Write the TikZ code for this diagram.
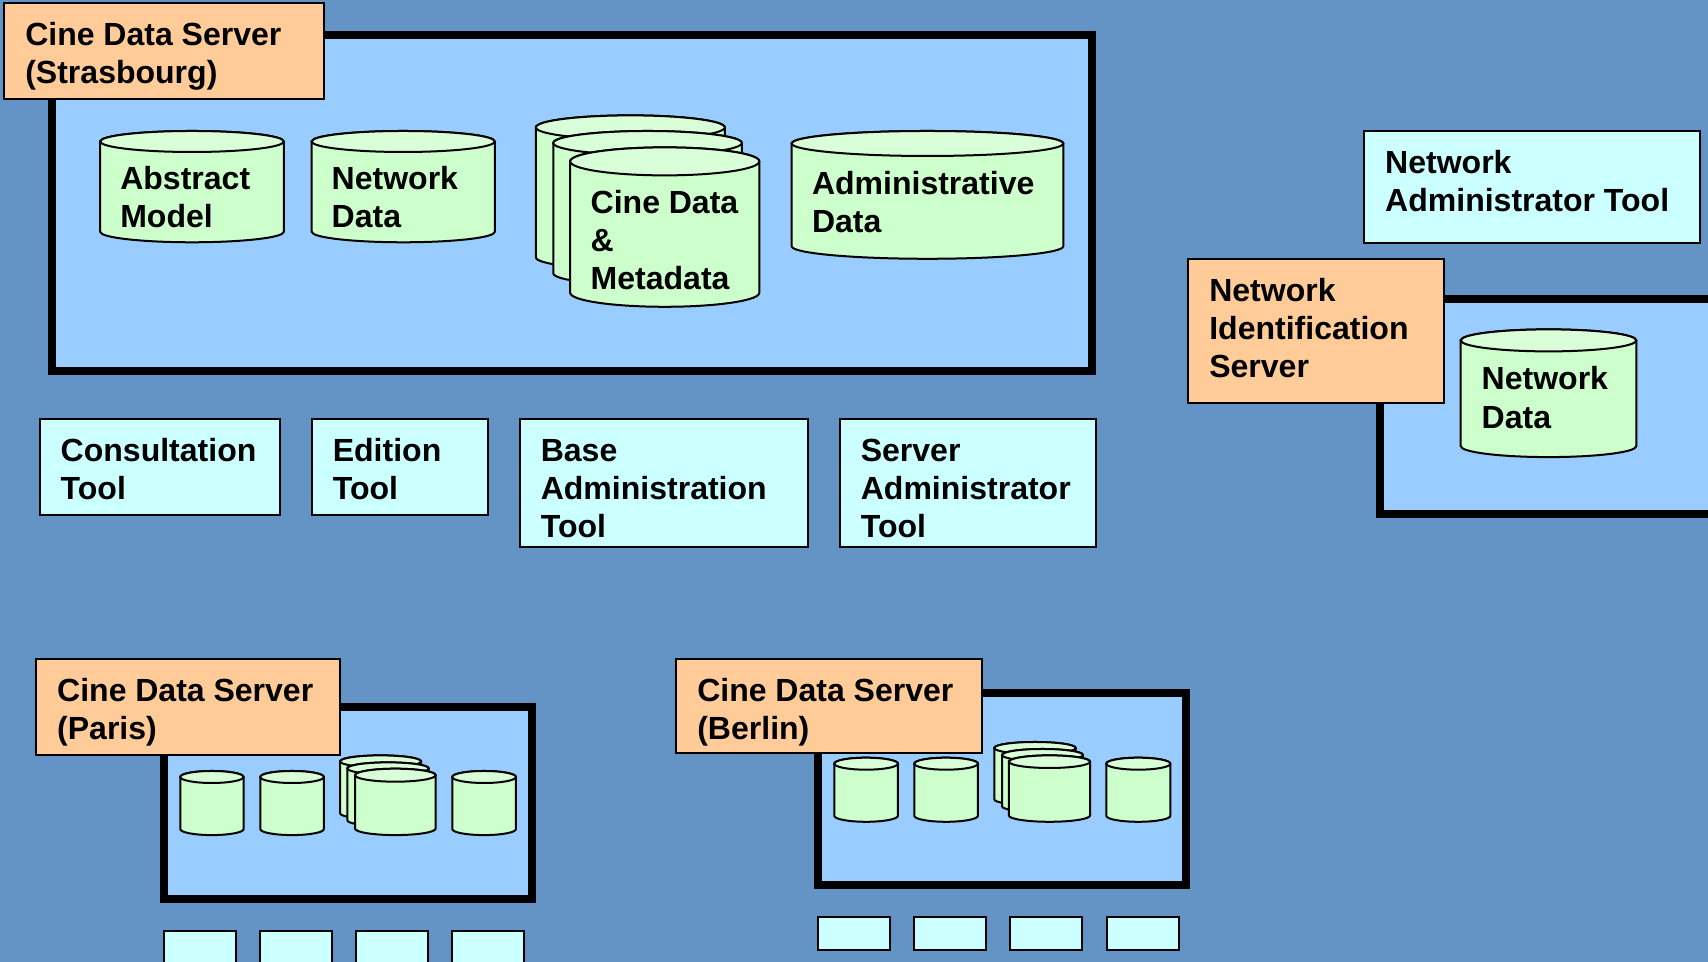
\documentclass[tikz,border=0pt]{standalone}
\usepackage{fontspec}
\setmainfont{Liberation Sans}
\definecolor{slate}{HTML}{6494C5}
\definecolor{framefill}{HTML}{99CCFF}
\definecolor{servercol}{HTML}{FFCC99}
\definecolor{toolcol}{HTML}{CCFFFF}
\definecolor{drumcol}{HTML}{CCFFCC}
\definecolor{drumtop}{HTML}{D9FFD9}
\tikzset{
  sized/.style n args={3}{anchor=north west,inner xsep=0.21cm,inner ysep=0pt,
    text width={(#1-44)*0.01cm},text height={(#3-1)*0.01cm},text depth={(#2-#3-1)*0.01cm}},
  lettering/.style={font=\fontsize{9.105}{10.81}\selectfont\bfseries,align=left,
    execute at begin node={\spaceskip 2.5pt\relax}},
  server/.style={draw=black,line width=0.02cm,fill=servercol,lettering},
  toolbox/.style={draw=black,line width=0.02cm,fill=toolcol,lettering},
  framebox/.style={draw=black,line width=0.08cm,fill=framefill},
  drum/.style={draw=black,line width=0.02cm,fill=drumcol},
  drumlid/.style={draw=black,line width=0.02cm,fill=drumtop},
  drumtext/.style={lettering,anchor=base west,inner sep=0pt,text width=#1*0.01cm}
}
% left, right, top, bottom, lid height
\newcommand{\drumat}[5]{
  \pgfmathsetmacro{\xlt}{#1+0.7}
  \pgfmathsetmacro{\xrt}{#2-0.7}
  \pgfmathsetmacro{\rxx}{(#2-#1)/2-0.7}
  \pgfmathsetmacro{\cxx}{(#1+#2)/2}
  \pgfmathsetmacro{\ylid}{#3+#5+0.7}
  \pgfmathsetmacro{\ylow}{#4-#5-0.7}
  \draw[drum](\xlt,\ylid)--(\xlt,\ylow) arc[start angle=180,end angle=0,x radius=\rxx,y radius=#5]
    --(\xrt,\ylid) arc[start angle=0,end angle=-180,x radius=\rxx,y radius=#5]--cycle;
  \draw[drumlid](\cxx,\ylid)ellipse[x radius=\rxx,y radius=#5];
}
\begin{document}
\begin{tikzpicture}[x=0.01cm,y=-0.01cm]
\clip (0,0) rectangle (1708,962);
\fill[slate](0,0) rectangle (1708,962);

%Strasbourg
\draw[framebox](51.9,34.7) rectangle (1092.3,370.7);
\node[server,sized={321.5}{98}{43}] (strasbourg) at (3.3,2.3) {Cine Data Server\\(Strasbourg)};
\drumat{99.5}{284.5}{130.3}{243}{10.5}
\node[drumtext=150] (abstract) at (119.6,189.4) {Abstract\\Model};
\drumat{311}{495.5}{130.3}{243}{10.5}
\node[drumtext=150] (netdata) at (331,189.4) {Network\\Data};
\drumat{535.2}{725.5}{114.7}{270}{12}
\drumat{552.6}{742.5}{130.3}{286}{12}
\drumat{569.5}{760}{146.7}{307.5}{14}
\node[drumtext=170] (cinedata) at (590,213.8) {Cine Data\\\&\\Metadata};
\drumat{791}{1064}{130.3}{259.5}{12.5}
\node[drumtext=240] (admindata) at (811.3,194.8) {Administrative\\Data};

%tools
\node[toolbox,sized={242}{98}{43}] (consult) at (38.7,418.3) {Consultation\\Tool};
\node[toolbox,sized={178}{98}{43}] (edition) at (310.8,418.3) {Edition\\Tool};
\node[toolbox,sized={290}{130}{43}] (baseadmin) at (518.8,418.3) {Base\\Administration\\Tool};
\node[toolbox,sized={258}{130}{43}] (serveradmin) at (838.8,418.3) {Server\\Administrator\\Tool};

%network identification
\node[toolbox,sized={338}{114}{43.5}] (netadmin) at (1363.2,130.3) {Network\\Administrator Tool};
\draw[framebox](1380.2,298.7) rectangle (1760,514.5);
\node[server,sized={257.5}{146}{43}] (netident) at (1187.3,258.3) {Network\\Identification\\Server};
\drumat{1460}{1637}{328.7}{457.8}{11}
\node[drumtext=150] (netdata2) at (1481,390) {Network\\Data};

%Paris
\draw[framebox](164,706.7) rectangle (532,899);
\node[server,sized={305.5}{98}{43.4}] (paris) at (35.2,658.3) {Cine Data Server\\(Paris)};
\drumat{179.6}{244.2}{770.3}{835.8}{6}
\drumat{259.6}{324.5}{770.3}{835.8}{6}
\drumat{339.4}{421.7}{754.7}{820}{6}
\drumat{346.6}{429.4}{761.7}{827}{6}
\drumat{354.4}{436.3}{768}{835.8}{6.5}
\drumat{451.6}{516.6}{770.3}{835.8}{6}
\node[toolbox,sized={74}{60}{0}] (parisa) at (162.8,930.3) {};
\node[toolbox,sized={74}{60}{0}] (parisb) at (258.9,930.3) {};
\node[toolbox,sized={74}{60}{0}] (parisc) at (354.9,930.3) {};
\node[toolbox,sized={74}{60}{0}] (parisd) at (451,930.3) {};

%Berlin
\draw[framebox](818.4,693.3) rectangle (1186.4,885.3);
\node[server,sized={307.5}{95.4}{43.4}] (berlin) at (675.3,658.3) {Cine Data Server\\(Berlin)};
\drumat{833.6}{898.6}{757}{822.5}{6}
\drumat{913.6}{978.6}{757}{822.5}{6}
\drumat{993.6}{1076.4}{741.3}{806}{6}
\drumat{1001.4}{1083.6}{748.3}{813}{6}
\drumat{1008.2}{1090.7}{754.7}{822.5}{6.3}
\drumat{1105.6}{1171}{757}{822.5}{6}
\node[toolbox,sized={74}{34}{0}] (berlina) at (817.3,916.5) {};
\node[toolbox,sized={74}{34}{0}] (berlinb) at (913.4,916.5) {};
\node[toolbox,sized={74}{34}{0}] (berlinc) at (1009.4,916.5) {};
\node[toolbox,sized={74}{34}{0}] (berlind) at (1105.5,916.5) {};
\end{tikzpicture}
\end{document}
